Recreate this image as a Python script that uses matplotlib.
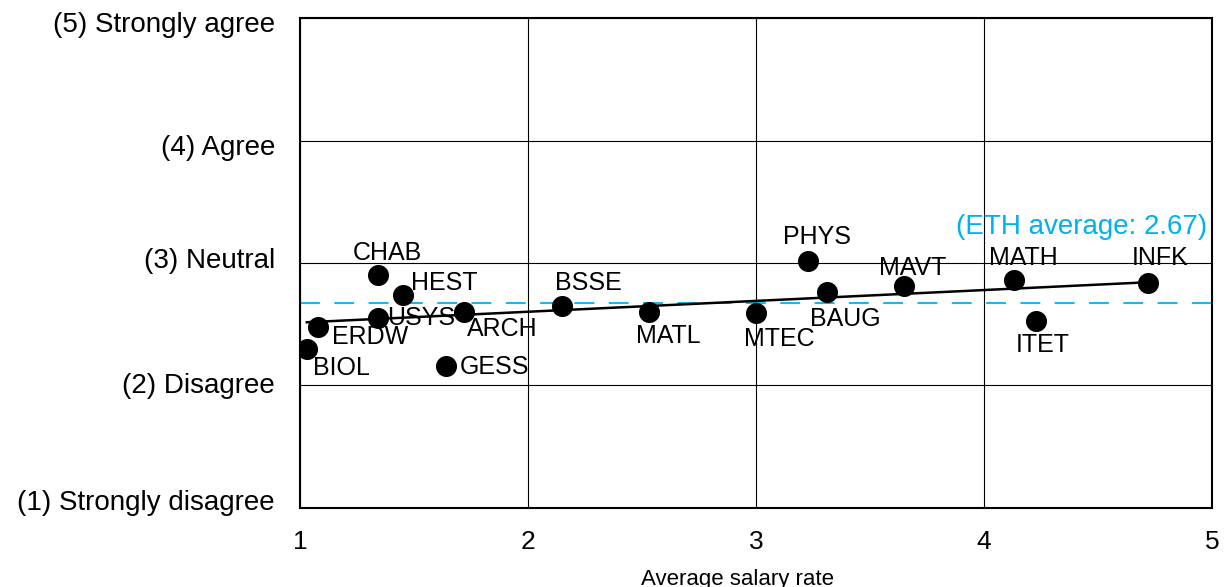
import numpy as np
import matplotlib
matplotlib.use('Agg')
import matplotlib.pyplot as plt
import matplotlib.transforms as mtransforms

plt.rcParams['font.family'] = ['Liberation Sans', 'DejaVu Sans']

# data
depts = ['BIOL', 'ERDW', 'CHAB', 'USYS', 'HEST', 'ARCH', 'GESS', 'BSSE',
         'MATL', 'MTEC', 'PHYS', 'BAUG', 'MAVT', 'MATH', 'ITET', 'INFK']
salary = [1.03, 1.08, 1.34, 1.34, 1.45, 1.72, 1.64, 2.15,
          2.53, 3.00, 3.23, 3.31, 3.65, 4.13, 4.23, 4.72]
agree = [2.30, 2.48, 2.90, 2.55, 2.74, 2.60, 2.16, 2.65,
         2.60, 2.59, 3.02, 2.76, 2.81, 2.86, 2.53, 2.84]
eth_avg = 2.67
y_ticks = [1, 2, 3, 4, 5]
y_labels = ['(1) Strongly disagree', '(2) Disagree', '(3) Neutral',
            '(4) Agree', '(5) Strongly agree']

# label placement (pixel offsets from the dot, alignment)
label_pos = {
    'BIOL': (6, -19, 'left'), 'ERDW': (14, -10, 'left'), 'CHAB': (10, 22, 'center'),
    'USYS': (10, 0, 'left'), 'HEST': (8, 12, 'left'), 'ARCH': (3, -17, 'left'),
    'GESS': (14, -1, 'left'), 'BSSE': (26, 23, 'center'), 'MATL': (19, -24, 'center'),
    'MTEC': (23, -26, 'center'), 'PHYS': (9, 24, 'center'), 'BAUG': (19, -27, 'center'),
    'MAVT': (8, 18, 'center'), 'MATH': (10, 22, 'center'), 'ITET': (6, -24, 'center'),
    'INFK': (12, 25, 'center'),
}
# small vertical nudges of the y tick labels (pixels, up positive)
ylabel_nudge = [8, 2, 5, -4, -4]

fig = plt.figure(figsize=(12.27, 5.87), dpi=100)
ax = fig.add_axes([0.2445, 0.1346, 0.7433, 0.8347])

ax.set_xlim(1, 5)
ax.set_ylim(1, 5)
ax.set_xticks([1, 2, 3, 4, 5])
ax.set_yticks(y_ticks)
ax.set_yticklabels(y_labels)
ax.tick_params(length=0)
ax.tick_params(axis='y', pad=18, labelsize=20)
ax.tick_params(axis='x', pad=16, labelsize=19)
ax.grid(True, color='black', linewidth=0.8)
for s in ax.spines.values():
    s.set_linewidth(1.5)

for lbl, dy in zip(ax.get_yticklabels(), ylabel_nudge):
    lbl.set_transform(lbl.get_transform() +
                      mtransforms.ScaledTranslation(0, dy / 100, fig.dpi_scale_trans))

ax.axhline(eth_avg, color='#00B0F0', linestyle=(0, (11, 8)), linewidth=1.3)
ax.text(4.98, eth_avg + 0.62, '(ETH average: 2.67)', color='#00B0F0',
        fontsize=20, ha='right', va='center')

# linear trend
k, b = np.polyfit(salary, agree, 1)
xs = np.array([min(salary), max(salary)])
ax.plot(xs, k * xs + b, color='black', linewidth=1.8)

ax.scatter(salary, agree, s=200, color='black', zorder=3)
for name, x, y in zip(depts, salary, agree):
    dx, dy, ha = label_pos[name]
    ax.annotate(name, (x, y), xytext=(dx, dy), textcoords='offset pixels',
                ha=ha, va='center', fontsize=18, zorder=4)

ax.set_xlabel('Average salary rate', fontsize=16)
ax.xaxis.set_label_coords(0.48, -0.125)

plt.savefig('out.png', dpi=100)
